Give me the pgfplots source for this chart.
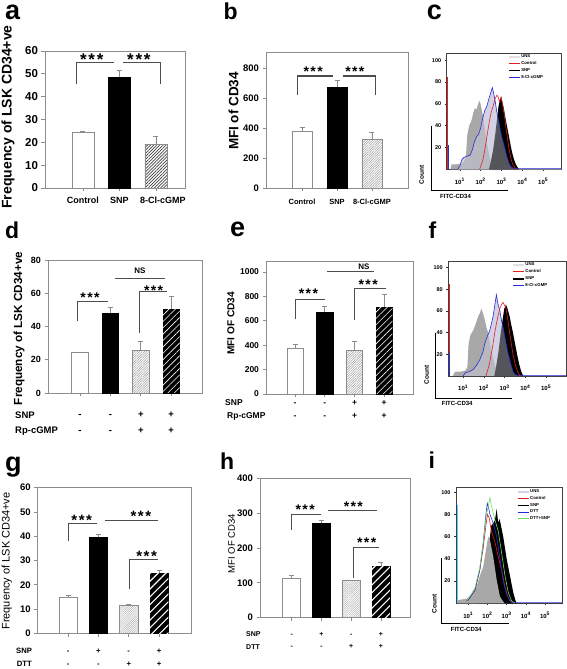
\documentclass[border=0pt]{standalone}
\usepackage{pgfplots}
\usepackage{pgfplotstable}
\pgfplotsset{compat=1.18}
\usepackage{fontspec}
\setmainfont{Liberation Sans}
\usetikzlibrary{patterns,patterns.meta}

\definecolor{fr}{HTML}{8C8C8C}
\definecolor{brk}{HTML}{4D4D4D}
\definecolor{lav}{HTML}{D2D2E4}
\definecolor{uns}{HTML}{A8A8A8}
\definecolor{grn}{HTML}{66E066}
\definecolor{bl}{HTML}{2A2AD8}
\definecolor{rd}{HTML}{E02020}

\newcommand{\fs}[1]{\fontsize{#1}{#1}\selectfont}
\newcommand{\stars}{*\hspace{0.1em}*\hspace{0.1em}*}

% ---------- flow data (x = log10 of FITC-CD34) ----------
\pgfplotstableread{
x y
0.55 0
0.6 4.5
0.8 4.5
1.0 5
1.15 6
1.25 9
1.3 14
1.36 32
1.45 40
1.55 44
1.65 52
1.72 56
1.8 55
1.88 60
1.95 63
2.02 58
2.1 50
2.18 40
2.26 30
2.34 20
2.42 12
2.5 6
2.58 2
2.65 0
}\cUNS
\pgfplotstableread{
x y
0.9 0
1.0 3
1.1 9
1.2 11
1.35 12
1.5 13
1.6 18
1.7 25
1.8 30
1.9 32
2.0 38
2.1 47
2.2 54
2.3 58
2.4 65
2.48 70
2.56 75
2.62 70
2.7 62
2.78 52
2.86 45
2.95 35
3.05 27
3.15 20
3.25 12
3.35 6
3.45 2.5
3.55 1
3.7 0.6
5.88 0.6
}\cBlue
\pgfplotstableread{
x y
1.95 0
2.1 8
2.2 18
2.3 30
2.4 42
2.5 52
2.6 58
2.7 65
2.78 68
2.85 66
2.9 62
2.98 66
3.05 60
3.15 48
3.25 33
3.35 20
3.45 10
3.55 4
3.7 0
}\cRed
\pgfplotstableread{
x y
2.4 0
2.5 8
2.6 18
2.7 32
2.78 45
2.86 58
2.93 64
2.98 67
3.04 62
3.12 55
3.2 46
3.3 36
3.4 26
3.5 16
3.6 9
3.7 4
3.8 1
3.85 0
}\cSNP
\pgfplotstableread{
x y
0.5 0
0.6 4
0.9 4
1.1 5
1.2 8
1.26 30
1.35 38
1.48 42
1.6 48
1.72 55
1.8 58
1.88 62
1.95 58
2.04 52
2.12 45
2.2 40
2.3 30
2.4 20
2.52 10
2.64 4
2.76 0
}\fUNS
\pgfplotstableread{
x y
1.0 0
1.1 3
1.3 4
1.48 6
1.65 10
1.8 15
1.95 22
2.04 30
2.15 36
2.28 42
2.38 50
2.44 55
2.52 65
2.6 75
2.68 66
2.76 61
2.84 52
2.92 45
3.04 33
3.16 21
3.28 12
3.4 4
3.5 1.5
3.6 0.6
5.95 0.6
}\fBlue
\pgfplotstableread{
x y
2.1 0
2.25 10
2.4 25
2.52 40
2.64 52
2.76 62
2.85 66
2.92 68
3.0 65
3.05 64
3.15 52
3.24 40
3.32 30
3.4 20
3.52 10
3.64 3
3.75 0
}\fRed
\pgfplotstableread{
x y
2.5 0
2.6 10
2.7 22
2.8 38
2.9 52
2.98 62
3.06 66
3.14 62
3.24 55
3.32 47
3.4 40
3.5 30
3.6 20
3.7 11
3.8 4
3.9 0
}\fSNP
\pgfplotstableread{
x y
0.45 0
0.48 3
0.9 4
1.2 8
1.43 15
1.61 25
1.78 33
1.95 51
2.04 60
2.13 57
2.3 42
2.48 21
2.65 6
2.82 1.5
2.9 0
}\iUNS
\pgfplotstableread{
x y
1.52 0
1.78 20
1.95 40
2.13 60
2.2 70
2.3 72
2.39 75
2.48 85
2.56 72
2.62 76
2.68 72
2.82 60
3.0 40
3.17 25
3.34 10
3.45 3
3.52 0
}\iSNP
\pgfplotstableread{
x y
0.9 2
1.0 3
1.35 12
1.6 30
1.78 50
1.92 70
2.0 80
2.09 77
2.2 65
2.39 55
2.56 42
2.74 30
2.91 15
3.08 5
3.26 1
3.4 0
}\iRed
\pgfplotstableread{
x y
0.9 2
1.0 3
1.35 12
1.6 30
1.78 55
1.92 80
1.99 90
2.06 86
2.13 80
2.3 72
2.48 60
2.65 40
2.82 20
3.0 8
3.17 2
3.34 0.6
5.88 0.6
}\iBlue
\pgfplotstableread{
x y
0.9 2
1.0 4
1.35 14
1.6 32
1.78 55
1.95 80
2.13 95
2.2 88
2.39 75
2.56 65
2.74 45
2.91 25
3.08 10
3.26 2
3.43 0.5
}\iGreen

\tikzset{st/.style={font=\bfseries\fs{#1}, inner sep=0pt, anchor=base, yshift={-0.57*#1pt}}}

\pgfplotsset{
  barax/.style={scale only axis, anchor=south west, ybar, ymin=0, clip=false,
    axis line style={fr, line width=0.7pt},
    tick align=outside, xtick pos=bottom, ytick pos=left,
    major tick length=3.5pt, tick style={fr, line width=0.7pt},
    /pgf/number format/assume math mode=true,
    /pgf/number format/set thousands separator={},
    xtick={0,1,2,3}},
  eb/.style={error bars/.cd, y dir=plus, y explicit,
    error bar style={fr, line width=0.8pt},
    error mark options={fr, line width=0.8pt, rotate=90, mark size=2.5pt}},
  flowax/.style={scale only axis, anchor=south west, ymin=0,
    axis line style={black!75, line width=0.5pt},
    tick align=outside, xtick pos=bottom, ytick pos=left,
    xtick={1,2,3,4,5},
    xticklabels={10\textsuperscript{1},10\textsuperscript{2},10\textsuperscript{3},10\textsuperscript{4},10\textsuperscript{5}},
    ytick={20,40,60,80,100},
    minor xtick={0.301,0.477,0.602,0.699,0.778,0.845,0.903,0.954,1.301,1.477,1.602,1.699,1.778,1.845,1.903,1.954,2.301,2.477,2.602,2.699,2.778,2.845,2.903,2.954,3.301,3.477,3.602,3.699,3.778,3.845,3.903,3.954,4.301,4.477,4.602,4.699,4.778,4.845,4.903,4.954,5.301,5.477,5.602,5.699,5.778,5.845,5.903,5.954},
    major tick length=2pt, minor tick length=1.2pt,
    tick style={black!80, line width=0.4pt},
    yticklabel style={font=\bfseries\fs{5.5}},
    xticklabel style={font=\bfseries\fs{6}, anchor=center, yshift=-10pt},
    /pgf/number format/assume math mode=true,
    legend cell align=left,
    legend image code/.code={\draw[##1] (0pt,0pt) -- (11pt,0pt);},
    legend style={draw=none, fill=none, font=\bfseries\fs{4.3}, inner sep=0pt, row sep=1pt, anchor=north west, nodes={inner sep=0.6pt}},
  },
}

\begin{document}
\begin{tikzpicture}
\path[use as bounding box] (0,0) rectangle (567pt,669pt);

% ================= a =================
\begin{axis}[barax, at={(45pt,481pt)}, width=140pt, height=137pt,
  xmin=-1.041, xmax=2.795, ymax=60, ytick={0,10,...,60}, bar width=22pt,
  xtick={0,1,2}, xticklabels={Control,SNP,\hspace*{14pt}8-Cl-cGMP},
  yticklabel style={font=\bfseries\fs{11.5}},
  xticklabel style={font=\bfseries\fs{9}, anchor=center, yshift=-8.5pt}]
\addplot[bar shift=0pt, fill=white, draw=fr, line width=0.7pt, eb] coordinates {(0,24.5) +- (0,0.3)};
\addplot[bar shift=0pt, fill=black, draw=black, eb] coordinates {(1,48.5) +- (0,3)};
\addplot[bar shift=0pt, draw=fr, line width=0.7pt, pattern={Lines[angle=45,distance=2.2pt,line width=0.7pt]}, pattern color=black!75, eb] coordinates {(2,19) +- (0,3.5)};
\draw[brk, line width=1.1pt] (axis cs:-0.17,45.4) |- (axis cs:0.85,55.1);
\draw[brk, line width=1.1pt] (axis cs:1.10,55.1) -| (axis cs:2.13,45.4);
\node[st=17] at (axis cs:0.24,57.8) {\stars};
\node[st=17] at (axis cs:1.53,57.8) {\stars};
\end{axis}

% ================= b =================
\begin{axis}[barax, at={(266pt,481pt)}, width=142pt, height=136pt,
  xmin=-1.03, xmax=3.03, ymax=907, ytick={0,200,...,800}, bar width=20pt,
  xtick={0,1,2}, xticklabels={Control,SNP,8-Cl-cGMP},
  yticklabel style={font=\bfseries\fs{9.5}},
  xticklabel style={font=\bfseries\fs{7.5}, anchor=center, yshift=-10.2pt}]
\addplot[bar shift=0pt, fill=white, draw=fr, line width=0.7pt, eb] coordinates {(0,375) +- (0,30)};
\addplot[bar shift=0pt, fill=black, draw=black, eb] coordinates {(1,675) +- (0,40)};
\addplot[bar shift=0pt, draw=fr, line width=0.7pt, pattern={Lines[angle=45,distance=1.7pt,line width=0.5pt]}, pattern color=gray!75, eb] coordinates {(2,322) +- (0,48)};
\draw[brk, line width=1.1pt] (axis cs:-0.14,620) |- (axis cs:0.89,747);
\draw[brk, line width=1.1pt] (axis cs:1.17,747) -| (axis cs:2.11,620);
\node[st=14] at (axis cs:0.32,798) {\stars};
\node[st=14] at (axis cs:1.51,798) {\stars};
\end{axis}

% ================= c =================
\begin{axis}[flowax, at={(446.7pt,499.7pt)}, width=115pt, height=116pt,
  xmin=0.37, xmax=5.89, ymax=106.4, legend style={at={(0.53,0.995)}}]
\addplot[forget plot, draw=none, fill=lav] table {\cBlue} \closedcycle;
\addplot[forget plot, draw=none, fill=uns] table {\cUNS} \closedcycle;
\addplot[forget plot, draw=none, fill=black] table {\cSNP} \closedcycle;
\addplot[forget plot, draw=none, fill=lav, fill opacity=0.4] table {\cBlue} \closedcycle;
\addplot[forget plot, bl, line width=0.6pt] table {\cBlue};
\addplot[forget plot, rd, line width=0.6pt] table {\cRed};
\addplot[forget plot, rd, line width=0.7pt] coordinates {(0.41,0) (0.41,85)};
\addplot[forget plot, bl, line width=0.6pt] coordinates {(0.44,0) (0.44,22)};
\addlegendimage{black!12, line width=1.6pt}\addlegendentry{UNS}
\addlegendimage{rd, line width=0.8pt}\addlegendentry{Control}
\addlegendimage{black, line width=1.8pt}\addlegendentry{SNP}
\addlegendimage{bl, line width=0.8pt}\addlegendentry{8-Cl-cGMP}
\end{axis}

% ================= d =================
\begin{axis}[barax, at={(48pt,276pt)}, width=154pt, height=133pt,
  xmin=-1.05, xmax=4.01, ymax=80, ytick={0,20,...,80}, bar width=16.5pt,
  xticklabels={-,-,+,+},
  extra x ticks={0,1,2,3}, extra x tick labels={-,-,+,+},
  extra x tick style={xticklabel style={yshift=-16pt}},
  yticklabel style={font=\bfseries\fs{9}},
  xticklabel style={font=\bfseries\fs{9.5}, anchor=base, yshift=-21.4pt}]
\addplot[bar shift=0pt, fill=white, draw=fr, line width=0.7pt, eb] coordinates {(0,24.2) +- (0,0.4)};
\addplot[bar shift=0pt, fill=black, draw=black, eb] coordinates {(1,48) +- (0,3.5)};
\addplot[bar shift=0pt, draw=fr, line width=0.7pt, pattern={Lines[angle=45,distance=1.7pt,line width=0.5pt]}, pattern color=gray!75, eb] coordinates {(2,25.5) +- (0,5.5)};
\addplot[bar shift=0pt, fill=black, draw=black, eb] coordinates {(3,50.5) +- (0,7.5)};
\addplot[bar shift=0pt, draw=none, pattern={Lines[angle=45,distance=4.5pt,line width=0.6pt]}, pattern color=white] coordinates {(3,50.5)};
\draw[brk, line width=1.1pt] (axis cs:-0.09,43.2) |- (axis cs:0.93,55.3);
\draw[brk, line width=1.1pt] (axis cs:1.97,36.2) |- (axis cs:2.85,60.8);
\draw[brk, line width=1.1pt] (axis cs:1.15,68.9) -- (axis cs:2.80,68.9);
\node[st=14] at (axis cs:0.33,59.4) {\stars};
\node[st=14] at (axis cs:2.42,63.4) {\stars};
\node[font=\bfseries\fs{8}, inner sep=0pt] at (axis cs:1.97,73.5) {NS};
\end{axis}

% ================= e =================
\begin{axis}[barax, at={(266pt,275pt)}, width=147pt, height=133pt,
  xmin=-0.98, xmax=3.97, ymax=1090, ytick={0,200,...,1000}, bar width=16.5pt,
  xticklabels={-,-,+,+},
  extra x ticks={0,1,2,3}, extra x tick labels={-,-,+,+},
  extra x tick style={xticklabel style={yshift=-13pt}},
  yticklabel style={font=\bfseries\fs{8.5}},
  xticklabel style={font=\bfseries\fs{8.5}, anchor=base, yshift=-8.1pt}]
\addplot[bar shift=0pt, fill=white, draw=fr, line width=0.7pt, eb] coordinates {(0,375) +- (0,30)};
\addplot[bar shift=0pt, fill=black, draw=black, eb] coordinates {(1,672) +- (0,46)};
\addplot[bar shift=0pt, draw=fr, line width=0.7pt, pattern={Lines[angle=45,distance=1.7pt,line width=0.5pt]}, pattern color=gray!75, eb] coordinates {(2,358) +- (0,72)};
\addplot[bar shift=0pt, fill=black, draw=black, eb] coordinates {(3,712) +- (0,108)};
\addplot[bar shift=0pt, draw=none, pattern={Lines[angle=45,distance=4.5pt,line width=0.6pt]}, pattern color=white] coordinates {(3,712)};
\draw[brk, line width=1.1pt] (axis cs:0.02,612) |- (axis cs:1.01,776);
\draw[brk, line width=1.1pt] (axis cs:1.99,606) |- (axis cs:3.05,866);
\draw[brk, line width=1.1pt] (axis cs:1.07,1002) -- (axis cs:2.66,1002);
\node[st=14] at (axis cs:0.45,852) {\stars};
\node[st=14] at (axis cs:2.46,920) {\stars};
\node[font=\bfseries\fs{8}, inner sep=0pt] at (axis cs:2.32,1043) {NS};
\end{axis}

% ================= f =================
\begin{axis}[flowax, at={(448.3pt,293pt)}, width=117.7pt, height=114.3pt,
  xmin=0.28, xmax=5.96, ymax=105.5, legend style={at={(0.54,0.997)}}]
\addplot[forget plot, draw=none, fill=lav] table {\fBlue} \closedcycle;
\addplot[forget plot, draw=none, fill=uns] table {\fUNS} \closedcycle;
\addplot[forget plot, draw=none, fill=black] table {\fSNP} \closedcycle;
\addplot[forget plot, draw=none, fill=lav, fill opacity=0.4] table {\fBlue} \closedcycle;
\addplot[forget plot, bl, line width=0.6pt] table {\fBlue};
\addplot[forget plot, rd, line width=0.6pt] table {\fRed};
\addplot[forget plot, rd, line width=0.7pt] coordinates {(0.31,0) (0.31,85)};
\addplot[forget plot, bl, line width=0.6pt] coordinates {(0.34,0) (0.34,21)};
\addlegendimage{black!12, line width=1.6pt}\addlegendentry{UNS}
\addlegendimage{rd, line width=0.8pt}\addlegendentry{Control}
\addlegendimage{black, line width=1.8pt}\addlegendentry{SNP}
\addlegendimage{bl, line width=0.8pt}\addlegendentry{8-Cl-cGMP}
\end{axis}

% ================= g =================
\begin{axis}[barax, at={(37.7pt,35.7pt)}, width=153.3pt, height=145.6pt,
  xmin=-1.0, xmax=4.05, ymax=60, ytick={0,10,...,60}, bar width=18.3pt,
  xticklabels={-,+,-,+},
  extra x ticks={0,1,2,3}, extra x tick labels={-,-,+,+},
  extra x tick style={xticklabel style={yshift=-13.3pt}},
  yticklabel style={font=\bfseries\fs{9.5}},
  xticklabel style={font=\bfseries\fs{7.7}, anchor=base, yshift=-16.2pt}]
\addplot[bar shift=0pt, fill=white, draw=fr, line width=0.7pt, eb] coordinates {(0,14.8) +- (0,1)};
\addplot[bar shift=0pt, fill=black, draw=black, eb] coordinates {(1,39.8) +- (0,1)};
\addplot[bar shift=0pt, draw=fr, line width=0.7pt, pattern={Lines[angle=45,distance=1.5pt,line width=0.5pt]}, pattern color=gray!60, eb] coordinates {(2,11.5) +- (0,0.3)};
\addplot[bar shift=0pt, fill=black, draw=black, eb] coordinates {(3,24.8) +- (0,1.2)};
\addplot[bar shift=0pt, draw=none, pattern={Lines[angle=45,distance=5.5pt,line width=1.1pt]}, pattern color=white] coordinates {(3,24.8)};
\draw[brk, line width=1.1pt] (axis cs:0,37.9) |- (axis cs:0.94,45.4);
\draw[brk, line width=1.1pt] (axis cs:1.21,46.4) -- (axis cs:2.97,46.4);
\draw[brk, line width=1.1pt] (axis cs:2.02,18.2) |- (axis cs:2.97,30.3);
\node[st=15] at (axis cs:0.45,47.9) {\stars};
\node[st=15] at (axis cs:2.4,49.6) {\stars};
\node[st=15] at (axis cs:2.59,33) {\stars};
\end{axis}

% ================= h =================
\begin{axis}[barax, at={(260pt,51.3pt)}, width=150.7pt, height=139.4pt,
  xmin=-1.07, xmax=4.0, ymax=400, ytick={0,100,...,400}, bar width=18pt,
  xticklabels={-,+,-,+},
  extra x ticks={0,1,2,3}, extra x tick labels={-,-,+,+},
  extra x tick style={xticklabel style={yshift=-12.7pt}},
  yticklabel style={font=\bfseries\fs{9.5}},
  xticklabel style={font=\bfseries\fs{7}, anchor=base, yshift=-14.9pt}]
\addplot[bar shift=0pt, fill=white, draw=fr, line width=0.7pt, eb] coordinates {(0,113) +- (0,7)};
\addplot[bar shift=0pt, fill=black, draw=black, eb] coordinates {(1,272) +- (0,8)};
\addplot[bar shift=0pt, draw=fr, line width=0.7pt, pattern={Lines[angle=45,distance=1.5pt,line width=0.5pt]}, pattern color=gray!60, eb] coordinates {(2,106) +- (0,2)};
\addplot[bar shift=0pt, fill=black, draw=black, eb] coordinates {(3,148) +- (0,10)};
\addplot[bar shift=0pt, draw=none, pattern={Lines[angle=45,distance=5.5pt,line width=1.1pt]}, pattern color=white] coordinates {(3,148)};
\draw[brk, line width=1.1pt] (axis cs:0,252) |- (axis cs:0.98,295);
\draw[brk, line width=1.1pt] (axis cs:1.23,307) -- (axis cs:2.88,307);
\draw[brk, line width=1.1pt] (axis cs:2.07,113) |- (axis cs:2.95,202);
\node[st=14] at (axis cs:0.45,319) {\stars};
\node[st=14] at (axis cs:2.07,329) {\stars};
\node[st=14] at (axis cs:2.52,225) {\stars};
\end{axis}

% ================= i =================
\begin{axis}[flowax, at={(456pt,65.7pt)}, width=106.3pt, height=115.6pt,
  xmin=0.36, xmax=5.9, ymax=104, legend style={at={(0.57,0.99)}}]
\addplot[forget plot, draw=none, fill=black] table {\iSNP} \closedcycle;
\addplot[forget plot, draw=none, fill=uns] table {\iUNS} \closedcycle;
\addplot[forget plot, rd, line width=0.6pt] table {\iRed};
\addplot[forget plot, bl, line width=0.6pt] table {\iBlue};
\addplot[forget plot, grn, line width=0.6pt] table {\iGreen};
\addplot[forget plot, bl, line width=0.7pt] coordinates {(0.39,0) (0.39,90)};
\addplot[forget plot, grn, line width=0.6pt] coordinates {(0.41,0) (0.41,88)};
\addlegendimage{lav, line width=1.6pt}\addlegendentry{UNS}
\addlegendimage{rd, line width=0.8pt}\addlegendentry{Control}
\addlegendimage{black, line width=1.8pt}\addlegendentry{SNP}
\addlegendimage{bl, line width=0.8pt}\addlegendentry{DTT}
\addlegendimage{grn, line width=0.8pt}\addlegendentry{DTT+SNP}
\end{axis}

% ---------- y labels ----------
\node[rotate=90, font=\bfseries\fs{14}] at (8pt,552pt) {Frequency of LSK CD34+ve};
\node[rotate=90, font=\bfseries\fs{13.5}] at (233.5pt,558pt) {MFI of CD34};
\node[rotate=90, font=\bfseries\fs{11.7}] at (19pt,340.5pt) {Frequency of LSK CD34+ve};
\node[rotate=90, font=\bfseries\fs{10.1}] at (231pt,345.5pt) {MFI OF CD34};
\node[rotate=90, font=\fs{11}] at (6.7pt,108pt) {Frequency of LSK CD34+ve};
\node[rotate=90, font=\fs{9.5}] at (231.5pt,125.5pt) {MFI OF CD34};

% ---------- row labels ----------
\node[anchor=west, font=\bfseries\fs{9.5}, inner sep=0pt] at (15pt,254pt) {SNP};
\node[anchor=west, font=\bfseries\fs{9.5}, inner sep=0pt] at (15pt,238pt) {Rp-cGMP};
\node[anchor=west, font=\bfseries\fs{8.5}, inner sep=0pt] at (225pt,266pt) {SNP};
\node[anchor=west, font=\bfseries\fs{8.5}, inner sep=0pt] at (227pt,253pt) {Rp-cGMP};
\node[anchor=west, font=\bfseries\fs{7.7}, inner sep=0pt] at (16pt,18.3pt) {SNP};
\node[anchor=west, font=\bfseries\fs{7.7}, inner sep=0pt] at (16.7pt,5pt) {DTT};
\node[anchor=west, font=\bfseries\fs{7}, inner sep=0pt] at (246pt,35pt) {SNP};
\node[anchor=west, font=\bfseries\fs{7}, inner sep=0pt] at (246pt,22.3pt) {DTT};

% ---------- flow axis decorations ----------
\draw[black, line width=0.6pt] (431pt,543pt) -- (431pt,478.3pt) -- (508.3pt,478.3pt);
\node[rotate=90, font=\bfseries\fs{6.5}] at (421.7pt,494pt) {Count};
\node[anchor=west, font=\bfseries\fs{6}, inner sep=0pt] at (440pt,473pt) {FITC-CD34};
\draw[black, line width=0.6pt] (435pt,336pt) -- (435pt,271pt) -- (511.7pt,271pt);
\node[rotate=90, font=\bfseries\fs{6.5}] at (426.7pt,294pt) {Count};
\node[anchor=west, font=\bfseries\fs{6}, inner sep=0pt] at (441.7pt,266pt) {FITC-CD34};
\draw[black, line width=0.6pt] (441pt,111pt) -- (441pt,46pt) -- (509pt,46pt);
\node[rotate=90, font=\bfseries\fs{6.5}] at (434.5pt,65pt) {Count};
\node[anchor=west, font=\bfseries\fs{6}, inner sep=0pt] at (450.7pt,40pt) {FITC-CD34};

% ---------- panel letters ----------
\node[anchor=base west, inner sep=0pt, font=\bfseries\fs{27}] at (5pt,649pt) {a};
\node[anchor=base west, inner sep=0pt, font=\bfseries\fs{23}] at (223.3pt,649pt) {b};
\node[anchor=base west, inner sep=0pt, font=\bfseries\fs{27}] at (426.7pt,649pt) {c};
\node[anchor=base west, inner sep=0pt, font=\bfseries\fs{23}] at (5pt,430.7pt) {d};
\node[anchor=base west, inner sep=0pt, font=\bfseries\fs{27}] at (230pt,432.3pt) {e};
\node[anchor=base west, inner sep=0pt, font=\bfseries\fs{23}] at (428.3pt,430.7pt) {f};
\node[anchor=base west, inner sep=0pt, font=\bfseries\fs{27}] at (5pt,197.3pt) {g};
\node[anchor=base west, inner sep=0pt, font=\bfseries\fs{23}] at (220pt,199pt) {h};
\node[anchor=base west, inner sep=0pt, font=\bfseries\fs{23}] at (428.3pt,200.7pt) {i};
\end{tikzpicture}
\end{document}
